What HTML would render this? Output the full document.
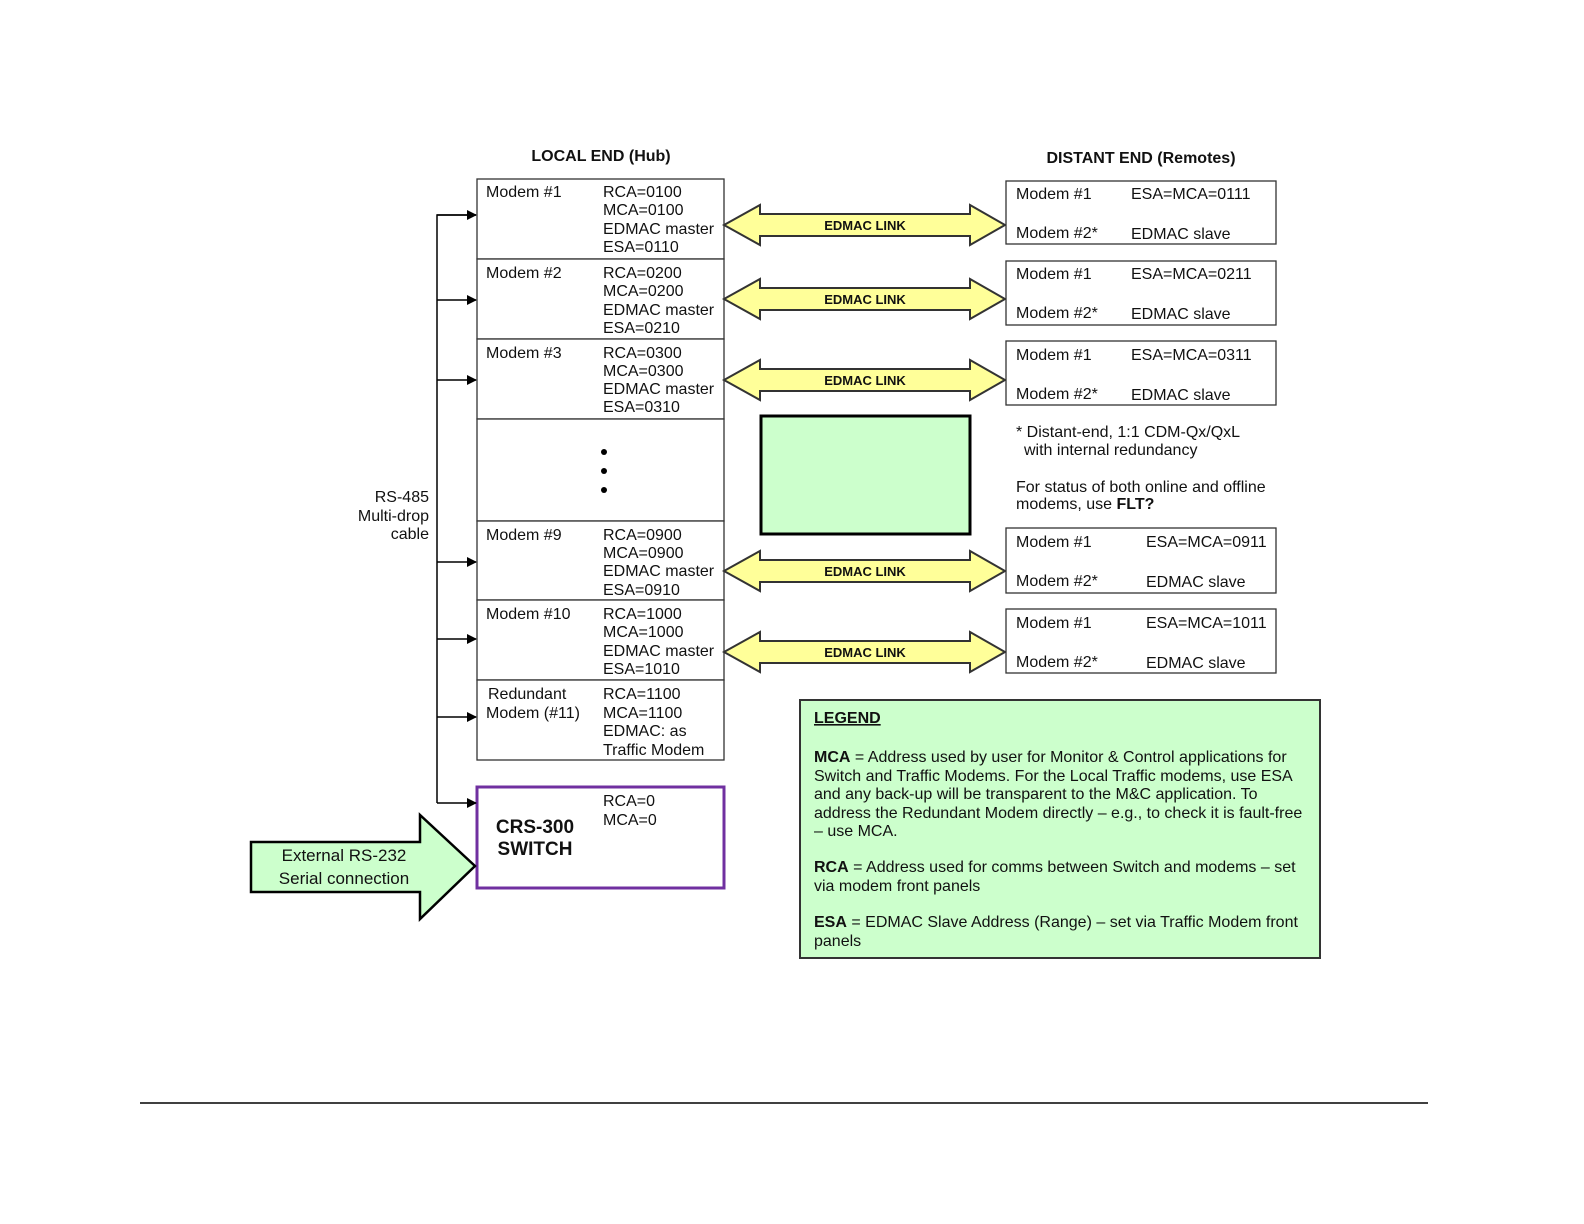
<!DOCTYPE html>
<html><head><meta charset="utf-8"><style>
html,body{margin:0;padding:0;background:#fff;}
svg{display:block;}
text{font-family:"Liberation Sans",Arial,sans-serif;fill:#111;}
</style></head><body>
<svg width="1584" height="1224" viewBox="0 0 1584 1224" xmlns="http://www.w3.org/2000/svg">
<defs><marker id="ah" markerWidth="10" markerHeight="10" refX="9" refY="5" orient="auto" markerUnits="userSpaceOnUse"><path d="M0,0 L10,5 L0,10 z" fill="#000"/></marker></defs>

<text x="601" y="161" font-size="16" font-weight="bold" text-anchor="middle">LOCAL  END (Hub)</text>
<text x="1141" y="163" font-size="16" font-weight="bold" text-anchor="middle">DISTANT END (Remotes)</text>

<!-- local boxes -->
<g fill="#fff" stroke="#333" stroke-width="1.3">
<rect x="477" y="179" width="247" height="80"/>
<rect x="477" y="259" width="247" height="80"/>
<rect x="477" y="339" width="247" height="80"/>
<rect x="477" y="419" width="247" height="102"/>
<rect x="477" y="521" width="247" height="79"/>
<rect x="477" y="600" width="247" height="80"/>
<rect x="477" y="680" width="247" height="80"/>
</g>
<rect x="477" y="787" width="247" height="101" fill="#fff" stroke="#7030a0" stroke-width="3"/>

<g font-size="16">
<text x="486" y="197">Modem #1</text>
<text x="603" y="197">RCA=0100</text><text x="603" y="215">MCA=0100</text><text x="603" y="234">EDMAC master</text><text x="603" y="252">ESA=0110</text>
<text x="486" y="278">Modem #2</text>
<text x="603" y="278">RCA=0200</text><text x="603" y="296">MCA=0200</text><text x="603" y="315">EDMAC master</text><text x="603" y="333">ESA=0210</text>
<text x="486" y="358">Modem #3</text>
<text x="603" y="358">RCA=0300</text><text x="603" y="376">MCA=0300</text><text x="603" y="394">EDMAC master</text><text x="603" y="412">ESA=0310</text>
<text x="486" y="540">Modem #9</text>
<text x="603" y="540">RCA=0900</text><text x="603" y="558">MCA=0900</text><text x="603" y="576">EDMAC master</text><text x="603" y="595">ESA=0910</text>
<text x="486" y="619">Modem #10</text>
<text x="603" y="619">RCA=1000</text><text x="603" y="637">MCA=1000</text><text x="603" y="656">EDMAC master</text><text x="603" y="674">ESA=1010</text>
<text x="488" y="699">Redundant</text><text x="486" y="718">Modem (#11)</text>
<text x="603" y="699">RCA=1100</text><text x="603" y="718">MCA=1100</text><text x="603" y="736">EDMAC: as</text><text x="603" y="755">Traffic Modem</text>
<text x="603" y="806">RCA=0</text><text x="603" y="825">MCA=0</text>
</g>
<text x="535" y="833" font-size="19" font-weight="bold" text-anchor="middle">CRS-300</text>
<text x="535" y="855" font-size="19" font-weight="bold" text-anchor="middle">SWITCH</text>
<circle cx="604" cy="452" r="3" fill="#000"/><circle cx="604" cy="471" r="3" fill="#000"/><circle cx="604" cy="490" r="3" fill="#000"/>

<!-- bus -->
<g stroke="#000" stroke-width="1.5" fill="none">
<path d="M476,215 H437 V803"/>
<line x1="437" y1="215" x2="476" y2="215" marker-end="url(#ah)"/>
<line x1="437" y1="300" x2="476" y2="300" marker-end="url(#ah)"/>
<line x1="437" y1="380" x2="476" y2="380" marker-end="url(#ah)"/>
<line x1="437" y1="562" x2="476" y2="562" marker-end="url(#ah)"/>
<line x1="437" y1="639" x2="476" y2="639" marker-end="url(#ah)"/>
<line x1="437" y1="717" x2="476" y2="717" marker-end="url(#ah)"/>
<line x1="437" y1="803" x2="476" y2="803" marker-end="url(#ah)"/>
</g>
<g font-size="16" text-anchor="end">
<text x="429" y="502">RS-485</text><text x="429" y="521">Multi-drop</text><text x="429" y="539">cable</text>
</g>

<!-- EDMAC arrows -->
<g fill="#ffff99" stroke="#333" stroke-width="2">
<path d="M724,225 L760,205 L760,214 L970,214 L970,205 L1005,225 L970,245 L970,236 L760,236 L760,245 Z"/>
<path d="M724,299 L760,279 L760,288 L970,288 L970,279 L1005,299 L970,319 L970,310 L760,310 L760,319 Z"/>
<path d="M724,380 L760,360 L760,369 L970,369 L970,360 L1005,380 L970,400 L970,391 L760,391 L760,400 Z"/>
<path d="M724,571 L760,551 L760,560 L970,560 L970,551 L1005,571 L970,591 L970,582 L760,582 L760,591 Z"/>
<path d="M724,652 L760,632 L760,641 L970,641 L970,632 L1005,652 L970,672 L970,663 L760,663 L760,672 Z"/>
</g>
<g font-size="13" font-weight="bold" text-anchor="middle">
<text x="865" y="230">EDMAC LINK</text><text x="865" y="304">EDMAC LINK</text><text x="865" y="385">EDMAC LINK</text><text x="865" y="576">EDMAC LINK</text><text x="865" y="657">EDMAC LINK</text>
</g>

<!-- remote boxes -->
<g fill="#fff" stroke="#333" stroke-width="1.3">
<rect x="1006" y="181" width="270" height="63"/>
<rect x="1006" y="261" width="270" height="64"/>
<rect x="1006" y="341" width="270" height="64"/>
<rect x="1006" y="528" width="270" height="65"/>
<rect x="1006" y="609" width="270" height="64"/>
</g>
<g font-size="16">
<text x="1016" y="199">Modem #1</text><text x="1131" y="199">ESA=MCA=0111</text>
<text x="1016" y="238">Modem #2*</text><text x="1131" y="239">EDMAC slave</text>
<text x="1016" y="279">Modem #1</text><text x="1131" y="279">ESA=MCA=0211</text>
<text x="1016" y="318">Modem #2*</text><text x="1131" y="319">EDMAC slave</text>
<text x="1016" y="360">Modem #1</text><text x="1131" y="360">ESA=MCA=0311</text>
<text x="1016" y="399">Modem #2*</text><text x="1131" y="400">EDMAC slave</text>
<text x="1016" y="547">Modem #1</text><text x="1146" y="547">ESA=MCA=0911</text>
<text x="1016" y="586">Modem #2*</text><text x="1146" y="587">EDMAC slave</text>
<text x="1016" y="628">Modem #1</text><text x="1146" y="628">ESA=MCA=1011</text>
<text x="1016" y="667">Modem #2*</text><text x="1146" y="668">EDMAC slave</text>
<text x="1016" y="437">* Distant-end, 1:1 CDM-Qx/QxL</text>
<text x="1024" y="455">with internal redundancy</text>
<text x="1016" y="492">For status of both online and offline</text>
<text x="1016" y="509">modems, use <tspan font-weight="bold">FLT?</tspan></text>
</g>

<rect x="761" y="416" width="209" height="118" fill="#ccffcc" stroke="#000" stroke-width="3"/>

<!-- legend -->
<rect x="800" y="700" width="520" height="258" fill="#ccffcc" stroke="#333" stroke-width="2"/>
<g font-size="16">
<text x="814" y="723" font-weight="bold" text-decoration="underline">LEGEND</text>
<text x="814" y="762"><tspan font-weight="bold">MCA</tspan> = Address used by user for Monitor &amp; Control applications for</text>
<text x="814" y="781">Switch and Traffic Modems. For the Local Traffic modems, use ESA</text>
<text x="814" y="799">and any back-up will be transparent to the M&amp;C application. To</text>
<text x="814" y="818">address the Redundant Modem directly – e.g., to check it is fault-free</text>
<text x="814" y="836">– use MCA.</text>
<text x="814" y="872"><tspan font-weight="bold">RCA</tspan> = Address used for comms between Switch and modems – set</text>
<text x="814" y="891">via modem front panels</text>
<text x="814" y="927"><tspan font-weight="bold">ESA</tspan> = EDMAC Slave Address (Range) – set via Traffic Modem front</text>
<text x="814" y="946">panels</text>
</g>

<!-- external arrow -->
<path d="M251,842 L420,842 L420,815 L475,866 L420,919 L420,892 L251,892 Z" fill="#ccffcc" stroke="#000" stroke-width="2.5"/>
<g font-size="17" text-anchor="middle">
<text x="344" y="861">External RS-232</text>
<text x="344" y="884">Serial connection</text>
</g>

<line x1="140" y1="1103" x2="1428" y2="1103" stroke="#000" stroke-width="1.5"/>
</svg>
</body></html>
